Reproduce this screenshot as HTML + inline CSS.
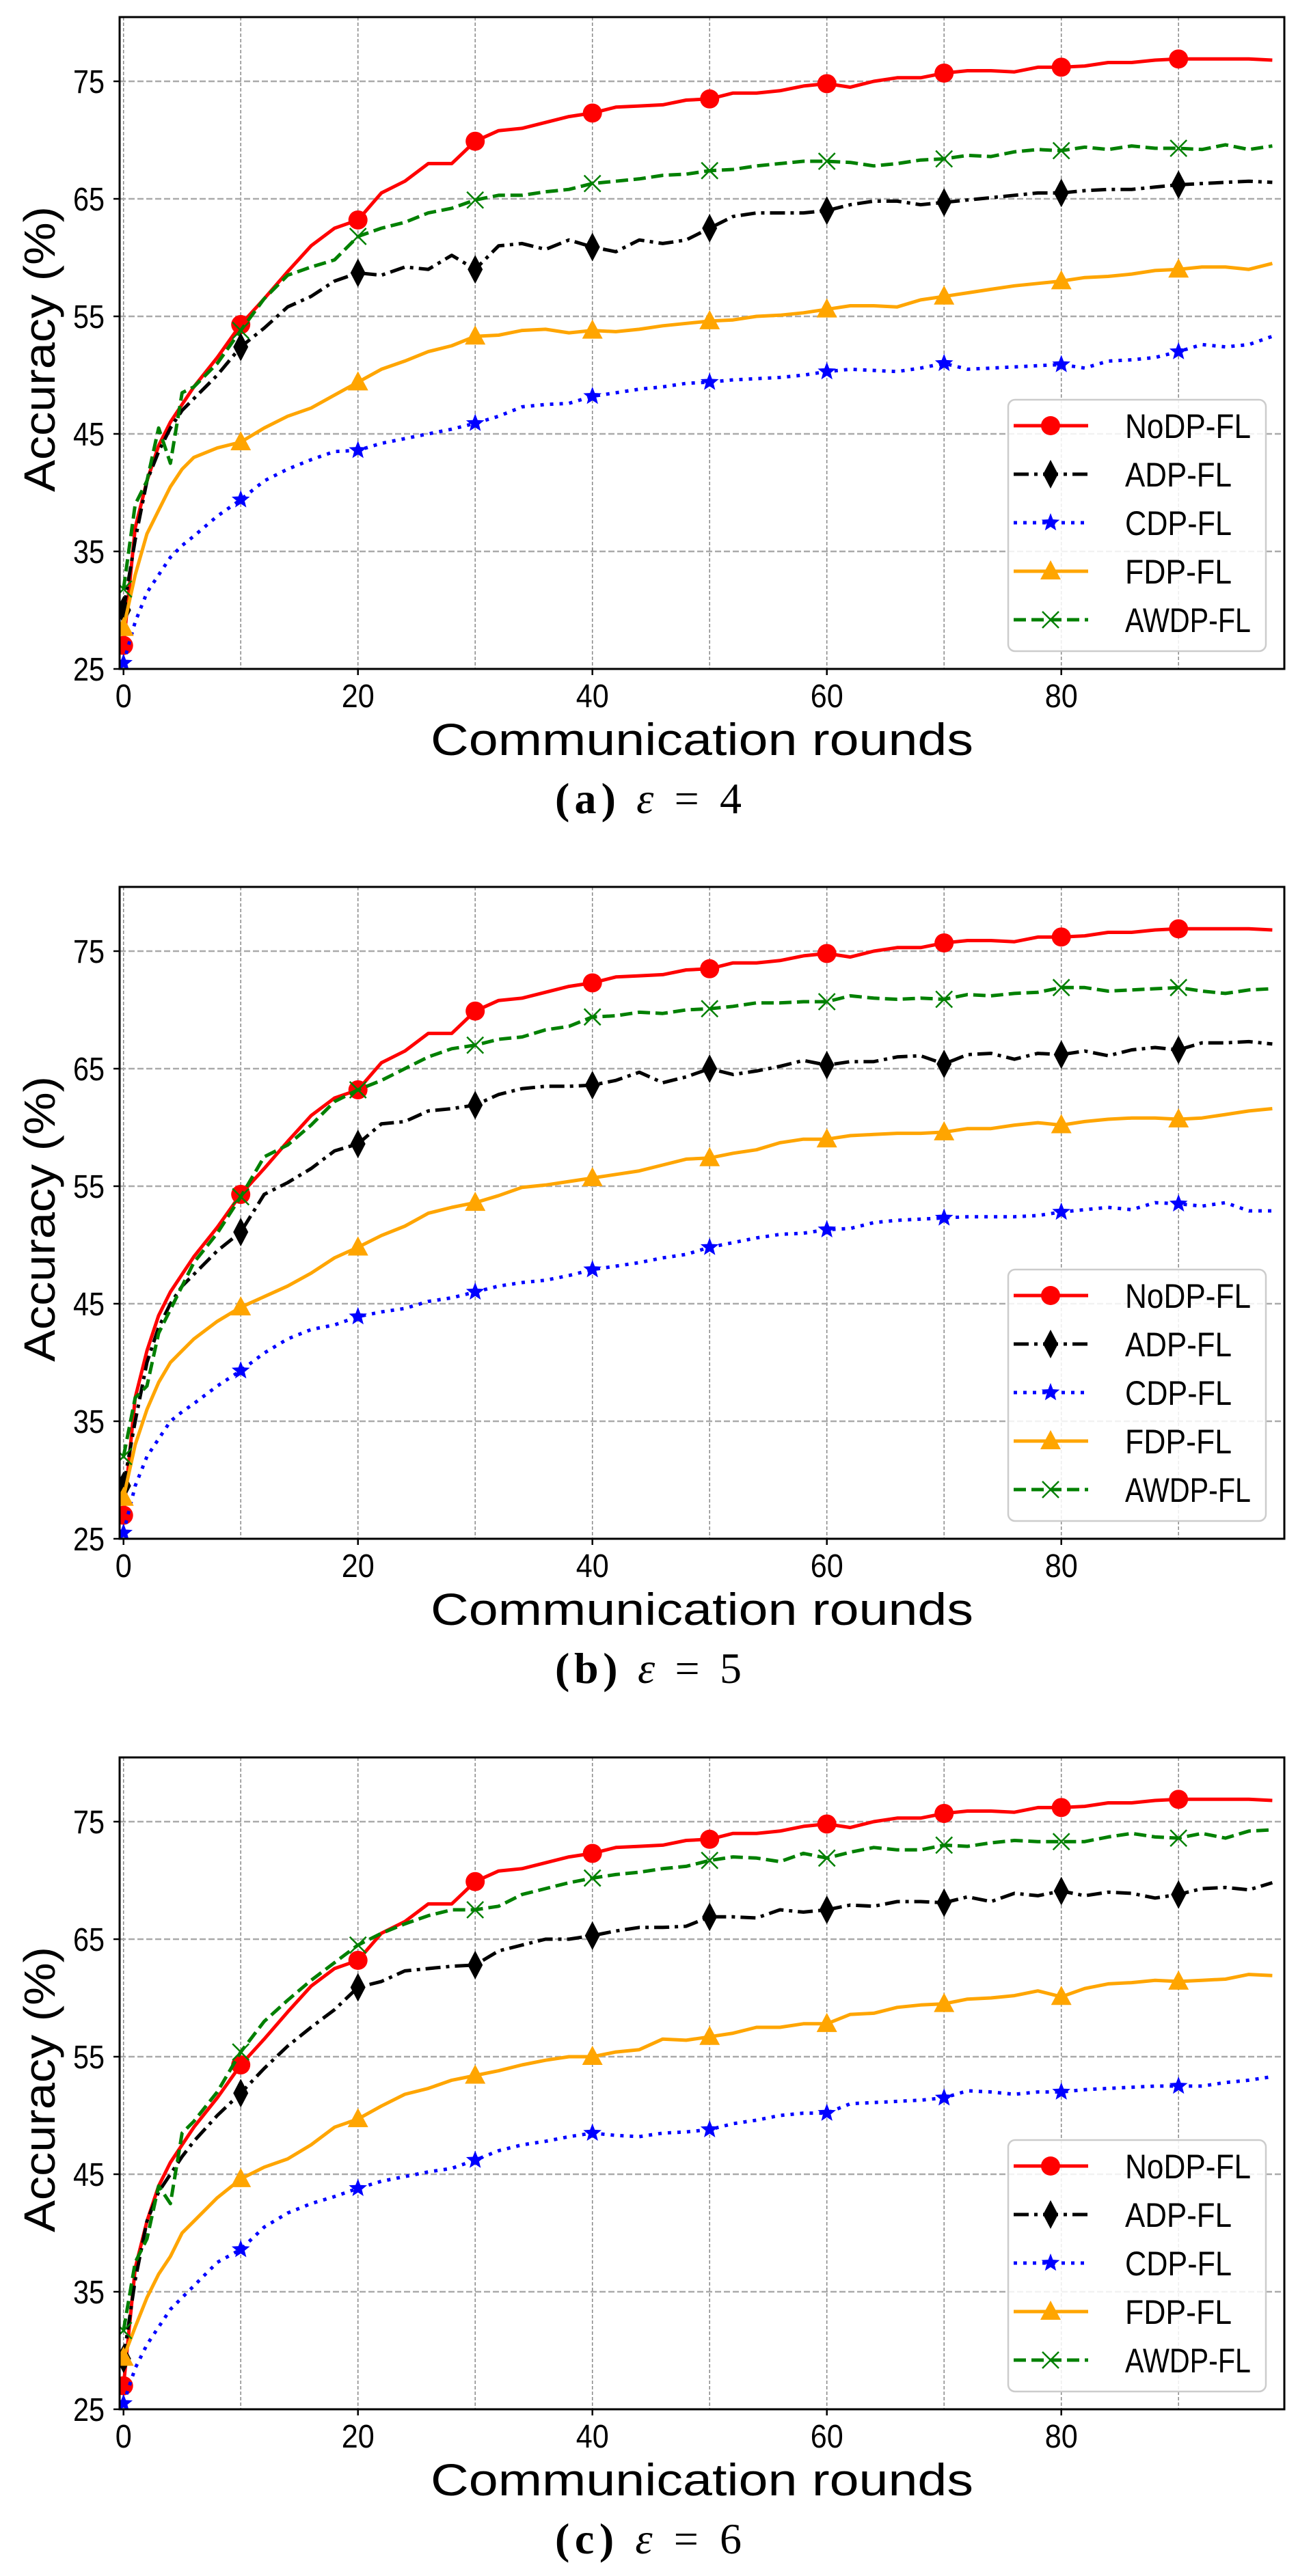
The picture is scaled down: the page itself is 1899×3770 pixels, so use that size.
<!DOCTYPE html>
<html><head><meta charset="utf-8">
<style>
html,body{margin:0;padding:0;background:#fff;}
svg{display:block;}
</style></head>
<body>
<svg id="fig" xmlns="http://www.w3.org/2000/svg" width="1899" height="3770" viewBox="0 0 1899 3770"></svg>
<script>
const rounds = [0,1,2,3,4,5,6,8,10,12,14,16,18,20,22,24,26,28,30,32,34,36,38,40,42,44,46,48,50,52,54,56,58,60,62,64,66,68,70,72,74,76,78,80,82,84,86,88,90,92,94,96,98];
const yTicks = [25,35,45,55,65,75];
const xTicks = [0,20,40,60,80];
const seriesNames = ["NoDP-FL","ADP-FL","CDP-FL","FDP-FL","AWDP-FL"];
const panelCaptions = ["a","b","c"];
const panelEps = ["4","5","6"];

const nodp = [27,37,41,44,46,47.5,49,51.5,54.3,56.5,58.8,61,62.5,63.2,65.5,66.5,68,68,69.9,70.8,71,71.5,72,72.3,72.8,72.9,73,73.4,73.5,74,74,74.2,74.6,74.8,74.5,75,75.3,75.3,75.7,75.9,75.9,75.8,76.2,76.2,76.3,76.6,76.6,76.8,76.9,76.9,76.9,76.9,76.8];

const adpA = [30,36,41,43.5,45.5,47,48,50,52.4,54,55.8,56.7,58,58.7,58.5,59.2,59,60.2,59,61,61.2,60.7,61.5,60.9,60.5,61.5,61.2,61.5,62.5,63.5,63.8,63.8,63.8,64,64.5,64.8,64.8,64.5,64.7,64.9,65.1,65.3,65.5,65.5,65.7,65.8,65.8,66,66.2,66.3,66.4,66.5,66.4];
const cdpA = [25.5,29,31.5,33,34.5,35.5,36.3,38,39.4,41,42,42.8,43.5,43.6,44.2,44.6,45,45.4,45.9,46.5,47.3,47.5,47.6,48.2,48.5,48.8,49,49.3,49.4,49.6,49.7,49.8,50,50.3,50.5,50.4,50.3,50.6,51,50.5,50.6,50.7,50.8,50.9,50.6,51.2,51.3,51.5,52,52.6,52.4,52.6,53.3];
const fdpA = [28.5,33,36.5,38.5,40.5,42,43,43.8,44.3,45.5,46.5,47.2,48.3,49.4,50.5,51.2,52,52.5,53.3,53.4,53.8,53.9,53.6,53.8,53.7,53.9,54.2,54.4,54.6,54.7,55,55.1,55.3,55.6,55.9,55.9,55.8,56.4,56.7,57,57.3,57.6,57.8,58,58.3,58.4,58.6,58.9,59,59.2,59.2,59,59.5];
const awdpA = [31.8,39,41,45.5,42.5,48.5,49,51,53.8,56.5,58.5,59.2,59.8,61.8,62.5,63,63.8,64.2,64.9,65.3,65.3,65.6,65.8,66.3,66.5,66.7,67,67.1,67.4,67.5,67.8,68,68.2,68.2,68.1,67.8,68,68.3,68.4,68.7,68.6,69,69.2,69.1,69.4,69.2,69.5,69.3,69.3,69.2,69.6,69.2,69.5];

const adpB = [29.5,35,40,43,45,46.5,47.5,49.5,51.1,54.3,55.3,56.5,58,58.6,60.3,60.5,61.4,61.6,61.9,62.8,63.3,63.5,63.5,63.6,64,64.7,63.8,64.3,65,64.5,64.8,65.2,65.7,65.3,65.6,65.6,66,66.1,65.4,66.2,66.3,65.8,66.3,66.2,66.5,66.1,66.6,66.8,66.6,67.2,67.2,67.3,67.1];
const cdpB = [25.5,29.5,32,33.5,35,35.8,36.5,38,39.3,40.8,42,42.8,43.2,43.9,44.3,44.6,45.2,45.5,46,46.5,46.8,47,47.4,47.9,48.2,48.5,48.9,49.2,49.8,50.2,50.6,50.9,51,51.3,51.4,51.9,52.1,52.2,52.3,52.4,52.4,52.4,52.5,52.8,53,53.2,53,53.6,53.5,53.3,53.6,52.9,52.9];
const fdpB = [28.5,33,36,38.3,40,41,42,43.5,44.7,45.6,46.5,47.6,48.9,49.8,50.8,51.6,52.7,53.2,53.6,54.2,54.9,55.1,55.4,55.7,56,56.3,56.8,57.3,57.4,57.8,58.1,58.7,59,59,59.3,59.4,59.5,59.5,59.6,59.9,59.9,60.2,60.4,60.2,60.5,60.7,60.8,60.8,60.7,60.8,61.1,61.4,61.6];
const awdpB = [32,37,38,42.5,44.5,46.5,48.5,51,54.1,57.5,58.5,60.2,62.2,63.2,64,65,66,66.7,67,67.5,67.7,68.3,68.6,69.4,69.5,69.8,69.7,70,70.1,70.3,70.6,70.6,70.7,70.7,71.2,71,70.9,71,70.9,71.3,71.2,71.4,71.5,71.9,71.9,71.6,71.7,71.8,71.9,71.6,71.4,71.7,71.8];

const adpC = [29.3,36,41,43.5,45,46.5,47.8,50,51.9,54,55.9,57.5,59,60.9,61.4,62.3,62.5,62.7,62.8,64,64.5,65,65,65.3,65.7,66,66,66.1,66.9,66.9,66.8,67.5,67.3,67.5,67.9,67.8,68.2,68.2,68.1,68.6,68.2,68.9,68.7,69.1,68.7,69,68.9,68.5,68.8,69.3,69.4,69.2,69.8];
const cdpC = [25.5,28.5,30.5,32,33.5,34.5,35.5,37.5,38.6,40.5,41.7,42.5,43.1,43.8,44.4,44.8,45.2,45.5,46.2,47,47.5,47.8,48.2,48.5,48.3,48.2,48.5,48.6,48.8,49.3,49.6,50,50.2,50.2,51,51.1,51.2,51.3,51.5,52.1,52,51.8,52,52,52.2,52.3,52.4,52.5,52.5,52.5,52.8,53,53.3];
const fdpC = [29.4,32,34.5,36.5,38,40,41,43,44.6,45.6,46.3,47.5,49,49.7,50.8,51.8,52.3,53,53.4,53.8,54.3,54.7,55,55,55.4,55.6,56.5,56.4,56.7,57,57.5,57.5,57.8,57.8,58.6,58.7,59.2,59.4,59.5,59.9,60,60.2,60.6,60.1,60.8,61.2,61.3,61.5,61.4,61.5,61.6,62,61.9];
const awdpC = [31.7,37.5,39.5,44,42.5,48.5,49.5,52,55.4,58,59.8,61.5,63,64.5,65.5,66.3,67,67.5,67.5,67.8,68.8,69.3,69.8,70.2,70.5,70.7,71,71.2,71.7,72,71.9,71.6,72.3,71.9,72.4,72.8,72.6,72.6,73,72.9,73.2,73.4,73.3,73.3,73.3,73.7,74,73.7,73.6,74,73.6,74.2,74.3];

const panels = [
  [nodp, adpA, cdpA, fdpA, awdpA],
  [nodp, adpB, cdpB, fdpB, awdpB],
  [nodp, adpC, cdpC, fdpC, awdpC]
];

const NS = "http://www.w3.org/2000/svg";
const svg = document.getElementById("fig");
function mk(tag, attrs, parent) {
  const e = document.createElementNS(NS, tag);
  for (const k in attrs) e.setAttribute(k, attrs[k]);
  (parent || svg).appendChild(e);
  return e;
}
const styles = [
  {color:"#ff0000", dash:null, marker:"circle"},
  {color:"#000000", dash:"22,8,5,8", marker:"diamond"},
  {color:"#0000ff", dash:"5,9", marker:"star"},
  {color:"#ffa500", dash:null, marker:"triangle"},
  {color:"#008000", dash:"18,8", marker:"x"}
];
const slug = ["nodp","adp","cdp","fdp","awdp"];
const PANEL_OFF = [0,1273,2547];
const LEFT = 175, RIGHT = 1879, TOPB = 25, BOT = 979;
function xs(x){ return 180.7 + x*17.15; }
function ysFor(off){ return v => off + 119 + (75 - v)*17.2; }

function drawMarker(g, kind, cx, cy, color) {
  let m;
  if (kind === "circle") {
    m = mk("circle", {cx:cx, cy:cy, r:14, fill:color}, g);
  } else if (kind === "diamond") {
    m = mk("polygon", {points:`${cx},${cy-21} ${cx+11},${cy} ${cx},${cy+21} ${cx-11},${cy}`, fill:color}, g);
  } else if (kind === "triangle") {
    m = mk("polygon", {points:`${cx},${cy-16} ${cx+15},${cy+12} ${cx-15},${cy+12}`, fill:color}, g);
  } else if (kind === "star") {
    let pts = [];
    for (let i=0;i<10;i++){
      const r = i%2===0 ? 14 : 6;
      const a = -Math.PI/2 + i*Math.PI/5;
      pts.push((cx + r*Math.cos(a)).toFixed(1)+","+(cy + r*Math.sin(a)).toFixed(1));
    }
    m = mk("polygon", {points:pts.join(" "), fill:color}, g);
  } else {
    m = mk("path", {d:`M${cx-12},${cy-12}L${cx+12},${cy+12}M${cx-12},${cy+12}L${cx+12},${cy-12}`, stroke:color, "stroke-width":2.5, fill:"none"}, g);
  }
  return m;
}

panels.forEach((data, p) => {
  const off = PANEL_OFF[p];
  const ys = ysFor(off);
  const g = mk("g", {});
  
  

  const clip = mk("clipPath", {id:"clip"+p}, g);
  mk("rect", {x:LEFT, y:off+TOPB, width:RIGHT-LEFT, height:BOT-TOPB}, clip);

  const grid = mk("g", {}, g);
  
  
  for (let x=0; x<=90; x+=10) {
    mk("line", {x1:xs(x), x2:xs(x), y1:off+TOPB, y2:off+BOT, stroke:"#888", "stroke-width":1.5, "stroke-dasharray":"5,3"}, grid);
  }
  yTicks.forEach(v => {
    mk("line", {x1:LEFT, x2:RIGHT, y1:ys(v), y2:ys(v), stroke:"#aaa", "stroke-width":2.5, "stroke-dasharray":"9,4"}, grid);
  });

  data.forEach((vals, s) => {
    const st = styles[s];
    const sg = mk("g", {"clip-path":`url(#clip${p})`}, g);
    
    
    const d = vals.map((v,i) => (i?"L":"M") + xs(rounds[i]).toFixed(1) + "," + ys(v).toFixed(1)).join("");
    const path = mk("path", {d:d, fill:"none", stroke:st.color, "stroke-width":5, "stroke-linejoin":"round"}, sg);
    if (st.dash) path.setAttribute("stroke-dasharray", st.dash);
    
    
    vals.forEach((v,i) => {
      if (rounds[i] % 10 === 0) {
        const m = drawMarker(sg, st.marker, xs(rounds[i]), ys(v), st.color);
        
        
      }
    });
  });

  const frame = mk("rect", {x:LEFT, y:off+TOPB, width:RIGHT-LEFT, height:BOT-TOPB, fill:"none", stroke:"#000", "stroke-width":3}, g);
  
  

  yTicks.forEach(v => {
    mk("line", {x1:LEFT-9, x2:LEFT, y1:ys(v), y2:ys(v), stroke:"#000", "stroke-width":2.5}, g);
    const t = mk("text", {x:153, y:ys(v)+17, "text-anchor":"end", "font-family":"Liberation Sans, sans-serif", "font-size":48, textLength:46, lengthAdjust:"spacingAndGlyphs"}, g);
    t.textContent = v;
    
    
  });
  xTicks.forEach(x => {
    mk("line", {x1:xs(x), x2:xs(x), y1:off+BOT, y2:off+BOT+9, stroke:"#000", "stroke-width":2.5}, g);
    const t = mk("text", {x:xs(x), y:off+1035, "text-anchor":"middle", "font-family":"Liberation Sans, sans-serif", "font-size":48, textLength: x===0?24:48, lengthAdjust:"spacingAndGlyphs"}, g);
    t.textContent = x;
    
    
  });

  const yt = mk("text", {x:0, y:0, transform:`translate(80,${off+511}) rotate(-90)`, "text-anchor":"middle", "font-family":"Liberation Sans, sans-serif", "font-size":64, textLength:418, lengthAdjust:"spacingAndGlyphs"}, g);
  yt.textContent = "Accuracy (%)";
  
  

  const xt = mk("text", {x:630, y:off+1105, "font-family":"Liberation Sans, sans-serif", "font-size":66, textLength:794, lengthAdjust:"spacingAndGlyphs"}, g);
  xt.textContent = "Communication rounds";
  
  

  const cap = mk("text", {x:812, y:off+1190, "font-family":"Liberation Serif, serif", "font-size":64, textLength:273, lengthAdjust:"spacing"}, g);
  
  
  const t1 = mk("tspan", {"font-weight":"bold"}, cap); t1.textContent = "(" + panelCaptions[p] + ") ";
  const t2 = mk("tspan", {"font-style":"italic"}, cap); t2.textContent = "ε";
  const t3 = mk("tspan", {}, cap); t3.textContent = " = " + panelEps[p];

  const lg = mk("g", {}, g);
  
  
  mk("rect", {x:1475, y:off+585, width:377, height:368, rx:10, fill:"#fff", "fill-opacity":0.85, stroke:"#ccc", "stroke-width":2.5}, lg);
  const lw = [184,156,156,156,184];
  seriesNames.forEach((name, s) => {
    const st = styles[s];
    const cy = off + 623 + s*71;
    const e = mk("g", {}, lg);
    
    
    const ln = mk("line", {x1:1483, x2:1592, y1:cy, y2:cy, stroke:st.color, "stroke-width":5}, e);
    if (st.dash) ln.setAttribute("stroke-dasharray", st.dash);
    drawMarker(e, st.marker, 1537, cy, st.color);
    const t = mk("text", {x:1646, y:cy+18, "font-family":"Liberation Sans, sans-serif", "font-size":50, textLength:lw[s], lengthAdjust:"spacingAndGlyphs"}, e);
    t.textContent = name;
  });
});
</script>
</body></html>
